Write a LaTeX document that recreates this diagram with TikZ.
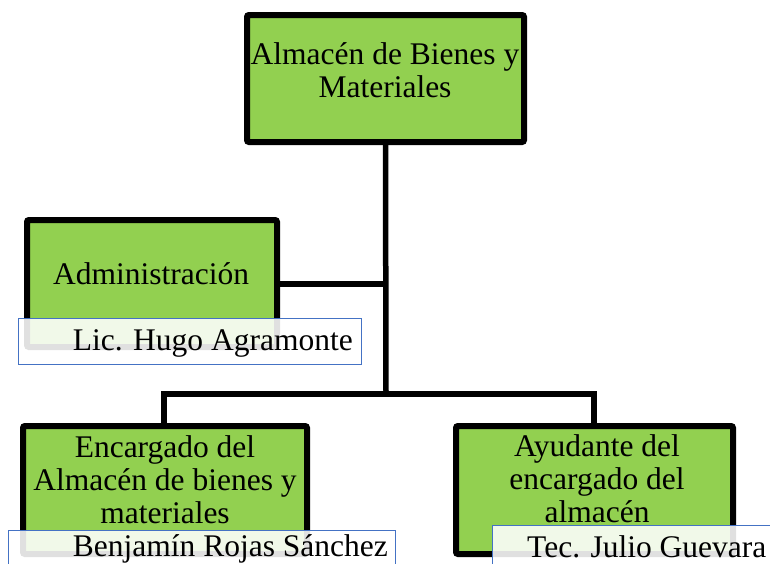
\documentclass[tikz,border=0pt]{standalone}
\usepackage{fontspec}
\setmainfont{Liberation Serif}
\usetikzlibrary{backgrounds}
\begin{document}
\begin{tikzpicture}[x=1pt,y=-1pt,
  box/.style={draw=black, line width=6pt, fill=boxgreen, rounded corners=2pt, inner sep=0pt, minimum width=#1},
  conn/.style={draw=black, line width=5.5pt},
  txt/.style={inner sep=0pt, align=center, font=\fontsize{31.5}{33}\selectfont},
  namebox/.style={draw=lblue, line width=0.9pt, fill=white, fill opacity=0.88},
  nametxt/.style={inner sep=0pt, font=\fontsize{31.5}{33}\selectfont}]
\definecolor{boxgreen}{HTML}{92D050}
\definecolor{lblue}{HTML}{4472C4}
\useasboundingbox (0,0) rectangle (770,563);
% boxes
\node[box=277pt, minimum height=127pt] (top) at (385.5,78.5) {};
\node[box=250pt, minimum height=127pt] (adm) at (152,283.5) {};
\node[box=284pt, minimum height=128pt] (enc) at (165,490) {};
\node[box=277pt, minimum height=128pt] (ayu) at (594.5,490) {};
% connectors
\coordinate (j1) at (386,394);
\coordinate (ja) at (386,284);
\coordinate (lj) at (164,394);
\coordinate (rj) at (594,394);
\begin{pgfonlayer}{background}
\draw[conn] (top.south) -- (j1);
\draw[conn] (adm.east |- ja) -- (ja);
\draw[conn, line cap=rect] (lj) -- (rj);
\draw[conn] (lj) -- (lj |- enc.north);
\draw[conn] (rj) -- (rj |- ayu.north);
\end{pgfonlayer}
% texts
\node[txt, anchor=base] (topT) at (385,97) {Almacén de Bienes y\\Materiales};
\node[txt, anchor=base] (admT) at (151,284) {Administración};
\node[txt, anchor=base] (encT) at (165,523) {Encargado del\\Almacén de bienes y\\materiales};
\node[txt, anchor=base] (ayuT) at (597,522) {Ayudante del\\encargado del\\almacén};
% name labels
\draw[namebox] (18,318) rectangle (361,364);
\node[nametxt, anchor=base east] (admN) at (353,350) {Lic. Hugo Agramonte};
\draw[namebox] (8,530) rectangle (395,580);
\node[nametxt, anchor=base east] (encN) at (388,556) {Benjamín Rojas Sánchez};
\draw[namebox] (492,525) rectangle (790,580);
\node[nametxt, anchor=base west] (ayuN) at (527,557) {Tec. Julio Guevara};
\end{tikzpicture}
\end{document}
